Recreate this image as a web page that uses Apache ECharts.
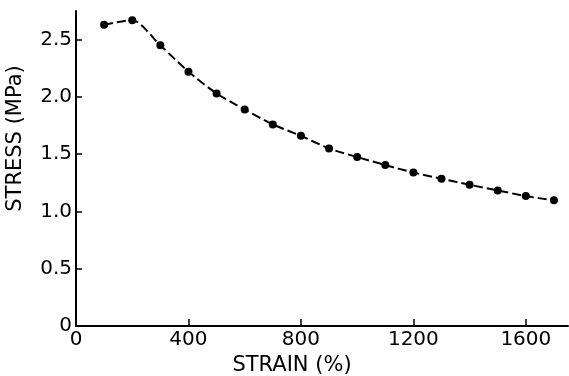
<!DOCTYPE html>
<html>
<head>
<meta charset="utf-8">
<script src="https://cdn.jsdelivr.net/npm/echarts@6/dist/echarts.min.js"></script>
<style>
  html, body { margin: 0; padding: 0; background: #fff; }
  #chart { width: 569px; height: 376px; }
</style>
</head>
<body>
<div id="chart"></div>
<script>
// strain (%) of each measured point
const strain = [100, 200, 300, 400, 500, 600, 700, 800, 900, 1000, 1100, 1200, 1300, 1400, 1500, 1600, 1700];
// stress (MPa)
const stress = [2.63, 2.67, 2.45, 2.22, 2.03, 1.89, 1.76, 1.66, 1.55, 1.475, 1.405, 1.34, 1.285, 1.233, 1.184, 1.134, 1.097];

const xTicks = [0, 400, 800, 1200, 1600];
const yTicks = [0, 0.5, 1.0, 1.5, 2.0, 2.5];

const font = 'DejaVu Sans';
const ink = '#000';

const option = {
    animation: false,
    grid: { left: 76, right: 1, top: 11, bottom: 50, outerBoundsMode: 'none' },
    xAxis: {
        type: 'value',
        min: 0,
        max: 1750,
        name: 'STRAIN (%)',
        nameLocation: 'middle',
        nameGap: 22,
        nameTextStyle: { fontFamily: font, fontSize: 21, color: ink, padding: [0, 60, 0, 0] },
        axisLine: { lineStyle: { color: ink, width: 2 } },
        axisTick: { inside: true, length: 7, customValues: xTicks, lineStyle: { color: ink, width: 1.5 } },
        axisLabel: {
            customValues: xTicks,
            margin: 4,
            fontFamily: font, fontSize: 20, color: ink,
            formatter: v => String(v)
        },
        splitLine: { show: false }
    },
    yAxis: {
        type: 'value',
        min: 0,
        max: 2.75,
        name: 'STRESS (MPa)',
        nameLocation: 'middle',
        nameGap: 50,
        nameTextStyle: { fontFamily: font, fontSize: 21, color: ink, padding: [0, 0, 0, 60] },
        axisLine: { lineStyle: { color: ink, width: 2 } },
        axisTick: { inside: true, length: 6, customValues: yTicks, lineStyle: { color: ink, width: 1.5 } },
        axisLabel: {
            customValues: yTicks,
            margin: 4,
            fontFamily: font, fontSize: 20, color: ink,
            formatter: v => v === 0 ? '0' : v.toFixed(1)
        },
        splitLine: { show: false }
    },
    series: [{
        type: 'line',
        data: strain.map((s, i) => [s, stress[i]]),
        smooth: 0.25,
        symbol: 'circle',
        symbolSize: 8,
        itemStyle: { color: ink },
        lineStyle: { color: ink, width: 2, type: [9, 4] }
    }]
};

const myChart = echarts.init(document.getElementById('chart'));
myChart.setOption(option);
</script>
</body>
</html>
